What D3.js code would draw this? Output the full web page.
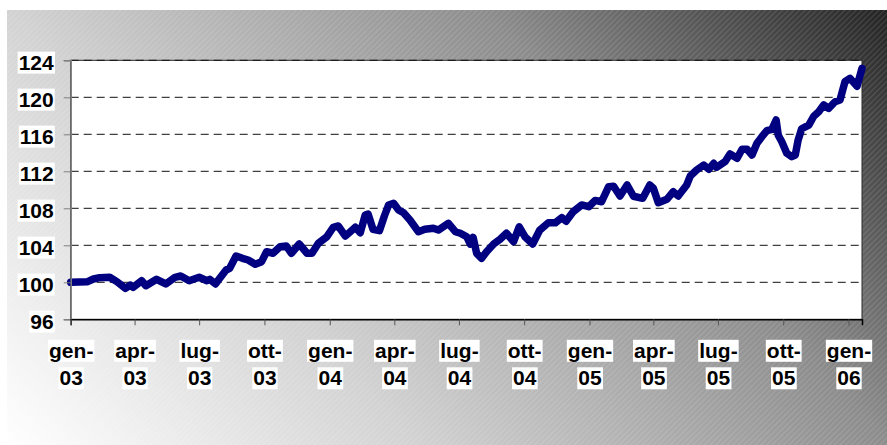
<!DOCTYPE html>
<html><head><meta charset="utf-8">
<script src="https://cdn.jsdelivr.net/npm/d3@7"></script>
<style>html,body{margin:0;padding:0;background:#fff;}svg{display:block;}</style>
</head><body>
<svg id="chart" width="887" height="445"></svg>
<script>
const dates = ["2003-01-01","2003-01-24","2003-02-02","2003-02-11","2003-02-25","2003-03-07","2003-03-19","2003-03-26","2003-03-30","2003-04-11","2003-04-17","2003-05-02","2003-05-15","2003-05-28","2003-06-05","2003-06-17","2003-07-01","2003-07-12","2003-07-16","2003-07-24","2003-07-30","2003-08-08","2003-08-13","2003-08-22","2003-08-31","2003-09-08","2003-09-18","2003-09-27","2003-10-04","2003-10-13","2003-10-23","2003-11-01","2003-11-08","2003-11-19","2003-11-30","2003-12-07","2003-12-16","2003-12-28","2004-01-06","2004-01-13","2004-01-23","2004-01-30","2004-02-06","2004-02-13","2004-02-20","2004-02-24","2004-03-02","2004-03-11","2004-03-18","2004-03-24","2004-03-31","2004-04-07","2004-04-14","2004-04-23","2004-05-05","2004-05-14","2004-05-26","2004-06-02","2004-06-16","2004-06-26","2004-07-03","2004-07-12","2004-07-17","2004-07-21","2004-07-26","2004-08-02","2004-08-09","2004-08-19","2004-08-28","2004-09-06","2004-09-16","2004-09-24","2004-10-02","2004-10-13","2004-10-23","2004-11-04","2004-11-14","2004-11-23","2004-11-29","2004-12-09","2004-12-21","2004-12-31","2005-01-09","2005-01-18","2005-01-28","2005-02-04","2005-02-13","2005-02-23","2005-03-04","2005-03-17","2005-03-27","2005-04-01","2005-04-08","2005-04-20","2005-04-29","2005-05-06","2005-05-18","2005-05-23","2005-06-01","2005-06-11","2005-06-18","2005-06-25","2005-06-29","2005-07-11","2005-07-18","2005-07-28","2005-08-04","2005-08-11","2005-08-18","2005-08-25","2005-09-01","2005-09-08","2005-09-15","2005-09-21","2005-09-24","2005-09-29","2005-10-06","2005-10-13","2005-10-18","2005-10-22","2005-10-27","2005-11-06","2005-11-13","2005-11-20","2005-11-27","2005-12-04","2005-12-13","2005-12-20","2005-12-27","2006-01-03","2006-01-13","2006-01-20"];
const values = [100.0,100.05,100.36,100.5,100.54,100.07,99.35,99.7,99.46,100.17,99.63,100.32,99.82,100.54,100.68,100.17,100.54,100.17,100.32,99.82,100.43,101.33,101.51,102.84,102.59,102.41,101.95,102.23,103.31,103.14,103.85,103.92,103.14,104.14,103.14,103.14,104.22,104.93,105.95,106.09,105.0,105.47,105.95,105.36,107.28,107.38,105.73,105.58,107.17,108.36,108.54,107.82,107.52,106.74,105.47,105.73,105.84,105.65,106.38,105.47,105.3,104.93,104.14,104.86,103.14,102.59,103.31,104.14,104.65,105.3,104.39,106.0,104.93,104.14,105.65,106.44,106.44,107.0,106.6,107.63,108.36,108.17,108.85,108.71,110.34,110.38,109.33,110.52,109.3,109.08,110.52,110.16,108.6,108.97,109.79,109.33,110.52,111.49,112.14,112.68,112.22,112.86,112.43,113.04,113.87,113.41,114.38,114.38,113.76,115.03,115.74,116.39,116.54,117.55,115.9,115.2,113.95,113.58,113.76,115.38,116.6,117.0,117.95,118.44,119.17,118.81,119.52,119.71,121.69,122.05,121.2,123.14];
const yTicks = [96,100,104,108,112,116,120,124];
const xTickDates = ["2003-01-01","2003-04-01","2003-07-01","2003-10-01","2004-01-01","2004-04-01","2004-07-01","2004-10-01","2005-01-01","2005-04-01","2005-07-01","2005-10-01","2006-01-01"];
const xTickLabels = [["gen-","03"],["apr-","03"],["lug-","03"],["ott-","03"],["gen-","04"],["apr-","04"],["lug-","04"],["ott-","04"],["gen-","05"],["apr-","05"],["lug-","05"],["ott-","05"],["gen-","06"]];
const xDomain = ["2003-01-01","2006-01-20"];

const parse = d3.utcParse("%Y-%m-%d");
const data = dates.map((d,i)=>({date:parse(d), value:values[i]}));

const svg = d3.select("#chart");
const W = 887, H = 445;
const plot = {left:70.7, right:862, top:60.3, bottom:319.3};

// background
const defs = svg.append("defs");
const grad = defs.append("linearGradient").attr("id","bg")
  .attr("x1",0).attr("y1",1).attr("x2",1.2).attr("y2",0.445);
[[0,"#ffffff"],[0.32,"#d2d2d2"],[0.69,"#8c8c8c"],[1,"#242424"]].forEach(s=>
  grad.append("stop").attr("offset",s[0]).attr("stop-color",s[1]));
const pat = defs.append("pattern").attr("id","hatch").attr("patternUnits","userSpaceOnUse")
  .attr("width",4).attr("height",4).attr("patternTransform","rotate(-45)");
pat.append("rect").attr("width",4).attr("height",1.2).attr("fill","#ffffff").attr("opacity",0.13);

svg.append("rect").attr("x",7).attr("y",10).attr("width",W-7).attr("height",H-10).attr("fill","url(#bg)");
svg.append("rect").attr("x",7).attr("y",10).attr("width",W-7).attr("height",H-10).attr("fill","url(#hatch)");

const x = d3.scaleUtc().domain(xDomain.map(parse)).range([plot.left, plot.right]);
const y = d3.scaleLinear().domain([96,124]).range([plot.bottom, plot.top]);

svg.append("rect").attr("x",plot.left).attr("y",plot.top)
  .attr("width",plot.right-plot.left).attr("height",plot.bottom-plot.top)
  .attr("fill","#ffffff").attr("stroke","#2a2a2a").attr("stroke-width",1);

// gridlines
svg.append("g").selectAll("line").data(yTicks.filter(t=>t>96)).join("line")
  .attr("x1",plot.left).attr("x2",plot.right)
  .attr("y1",d=>y(d)).attr("y2",d=>y(d))
  .attr("stroke","#111").attr("stroke-width",1).attr("stroke-dasharray","8,5");

// line
const line = d3.line().x(d=>x(d.date)).y(d=>y(d.value));
svg.append("path").datum(data).attr("d",line)
  .attr("fill","none").attr("stroke","#000080").attr("stroke-width",7.5)
  .attr("stroke-linejoin","round").attr("stroke-linecap","round");

// y axis
const yAxis = svg.append("g").attr("transform",`translate(${plot.left},0)`)
  .call(d3.axisLeft(y).tickValues(yTicks).tickSize(7).tickPadding(10).tickFormat(d3.format("d")));
yAxis.select(".domain").attr("stroke","#808080").attr("stroke-width",1.5);
yAxis.selectAll(".tick line").attr("stroke","#808080");
yAxis.selectAll(".tick text").attr("font-family","'Liberation Sans', Arial, sans-serif")
  .attr("font-weight","bold").attr("font-size","21px").attr("fill","#000").attr("dy","0.42em");

// x axis
const xAxis = svg.append("g").attr("transform",`translate(0,${plot.bottom})`)
  .call(d3.axisBottom(x).tickValues(xTickDates.map(parse)).tickSize(6).tickFormat(""));
xAxis.select(".domain").attr("stroke","#000").attr("stroke-width",1.5);
xAxis.selectAll(".tick line").attr("stroke","#555");
xAxis.selectAll(".tick").each(function(d,i){
  const g = d3.select(this);
  const t = g.append("text").attr("font-family","'Liberation Sans', Arial, sans-serif")
    .attr("font-weight","bold").attr("font-size","21px").attr("fill","#000").attr("text-anchor","middle");
  t.append("tspan").attr("x",0).attr("y",38.5).text(xTickLabels[i][0]);
  t.append("tspan").attr("x",0).attr("y",66).text(xTickLabels[i][1]);
});

// white boxes behind tick labels
svg.selectAll(".tick text").each(function(){
  const el = this;
  const parent = d3.select(el.parentNode);
  const tspans = d3.select(el).selectAll("tspan").nodes();
  const nodes = tspans.length ? tspans : [el];
  nodes.forEach(n=>{
    const b = n.getBBox();
    parent.insert("rect","text").attr("x",b.x-1).attr("y",b.y+1).attr("width",b.width+2).attr("height",b.height-1).attr("fill","#fff");
  });
});
</script>
</body></html>
